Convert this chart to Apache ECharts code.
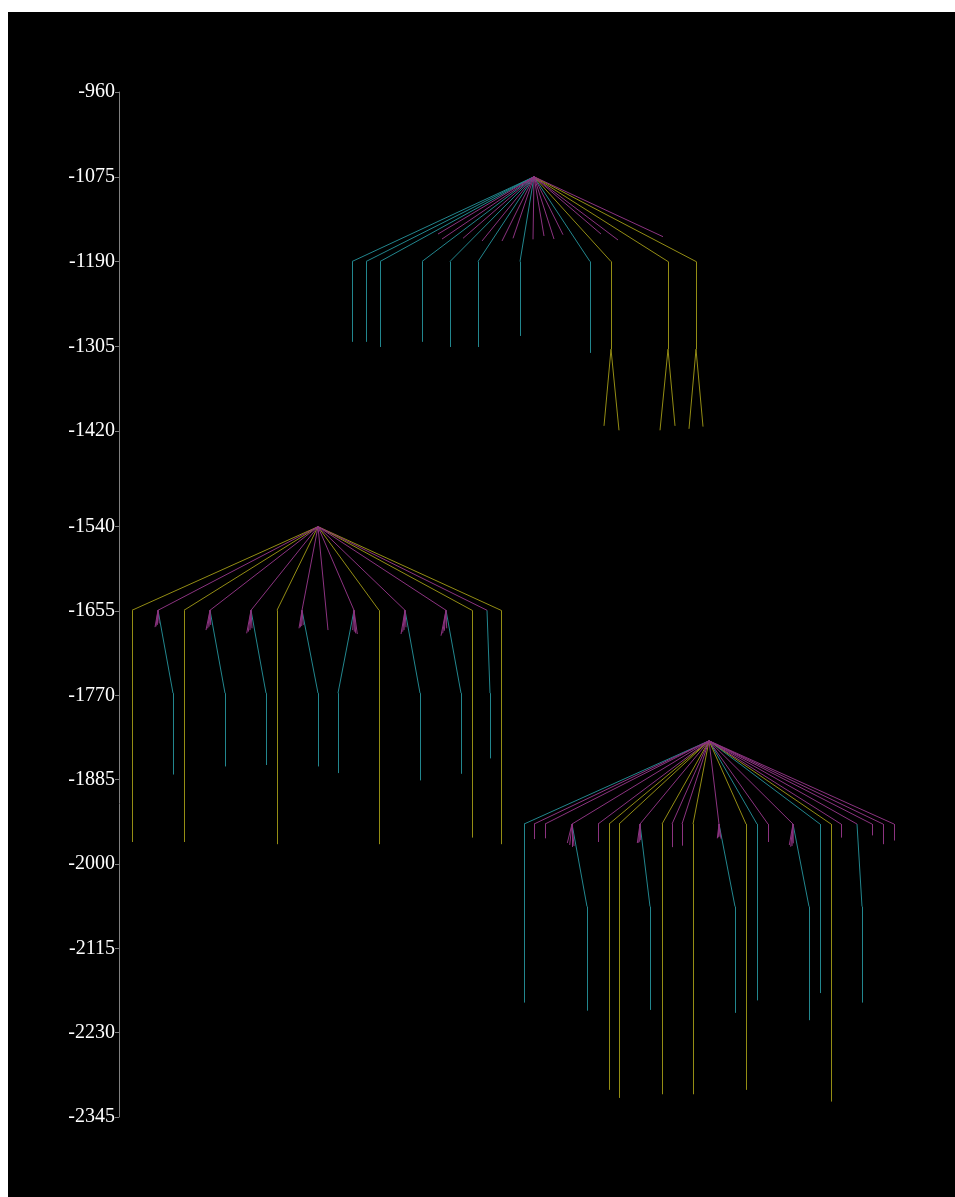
<!DOCTYPE html>
<html>
<head>
<meta charset="utf-8">
<script src="https://cdn.jsdelivr.net/npm/echarts@6/dist/echarts.min.js"></script>
<style>
  html, body { margin: 0; padding: 0; background: #fff; }
  #chart { position: absolute; left: 8px; top: 12px; width: 947px; height: 1185px; background: #000; }
</style>
</head>
<body>
<div id="chart"></div>
<script>
// Tick labels of the two stacked value axes
const upperTicks = [-960, -1075, -1190, -1305, -1420];
const lowerTicks = [-1540, -1655, -1770, -1885, -2000, -2115, -2230, -2345];

// Tree 1 (upper panel)
const t1Root = [415, -1075];
const t1Levels = [-1190, -1309];
const t1Tips = [[319, -1152.7], [323, -1159.5], [344, -1158.5], [363, -1162.2], [383, -1162.2],
  [394, -1158.5], [414, -1159.9], [425, -1155.4], [435, -1159.5], [444, -1153.6],
  [482, -1152.7], [499, -1160.8], [544, -1156.3]];
const t1Stems = [[233, -1299, 'c'], [247, -1299, 'c'], [261, -1306, 'c'], [303, -1299, 'c'],
  [331, -1306, 'c'], [359, -1306, 'c'], [401, -1291, 'c'], [471, -1314, 'c']];
const t1Forks = [[492, 485, -1413, 500, -1419], [549, 541, -1419, 556, -1413], [577, 570, -1417, 584, -1414]];

// Tree 2 (lower panel, left)
const t2Root = [199, -1540];
const t2Levels = [-1654, -1767];
const t2Tips = [[209, -1681]];
const t2Stems = [[13, -1970, 'y'], [65, -1970, 'y'], [158, -1973, 'y'], [260, -1973, 'y'],
  [353, -1964, 'y'], [382, -1973, 'y']];
const t2Clusters = [
  [39, 54, -1878, [[36, -1677], [37, -1676], [38.3, -1674], [40.3, -1672]]],
  [91, 106, -1867, [[87, -1681], [88.7, -1678.6], [90, -1676.4], [91.7, -1674]]],
  [132, 147, -1865, [[127.7, -1685.4], [129.3, -1683.2], [131, -1681], [133, -1678.6]]],
  [183, 199, -1867, [[180, -1678.6], [181.3, -1677.2], [182.7, -1675.5], [184.3, -1674]]],
  [235, 219, -1876, [[233.7, -1681], [235.3, -1683.2], [236.7, -1685.4], [238.3, -1686.4]]],
  [286, 301, -1886, [[282, -1686.4], [283.7, -1683.2], [285, -1681], [287, -1677.2]]],
  [327, 342, -1877, [[322, -1688.7], [323.7, -1685.4], [325.3, -1682], [327.7, -1678.6]]],
  [368, 371, -1856, []]
];

// Tree 3 (lower panel, right)
const t3Root = [590, -1832];
const t3Levels = [-1945.5, -2058];
const t3Tips = [];
const t3Stems = [
  [405, -2189, 'c'], [638, -2186, 'c'], [701, -2176, 'c'],
  [415, -1966, 'm'], [426, -1965, 'm'], [479, -1970, 'm'], [553, -1977, 'm'], [563, -1975, 'm'],
  [649, -1970, 'm'], [722, -1964, 'm'], [753, -1961, 'm'], [764, -1973, 'm'], [775, -1968, 'm'],
  [490, -2308, 'y'], [500, -2319, 'y'], [543, -2314, 'y'], [574, -2314, 'y'], [627, -2308, 'y'], [712, -2324, 'y']
];
const t3Clusters = [
  [453, 468, -2200, [[448.3, -1971.4], [450.7, -1974.1], [453, -1976.8], [455, -1975.5]]],
  [521, 531, -2199, [[518.3, -1971.4], [519.7, -1971], [520.7, -1969.6], [521.7, -1967.3]]],
  [600, 616, -2203, [[598.3, -1965], [599.3, -1963.6], [601, -1962.8], [602, -1965.5]]],
  [674, 690, -2213, [[670.3, -1974.1], [671.7, -1976.4], [673, -1975.5], [674.3, -1971.8]]],
  [738, 743, -2189, []]
];

const COLORS = { c: '#22868e', y: '#948d14', m: '#8c3380' };

// Turn one tree into edge lists per colour, one lines series per colour
function treeSeries(grid, root, levels, tips, stems, forks, clusters) {
  const [lv1, lv2] = levels;
  const edges = { c: [], y: [], m: [] };
  tips.forEach(([x, y]) => edges.m.push([root, [x, y]]));
  stems.forEach(([x, yEnd, k]) => {
    edges[k].push([root, [x, lv1]], [[x, lv1], [x, yEnd]]);
  });
  forks.forEach(([x, xa, ya, xb, yb]) => {
    edges.y.push([root, [x, lv1]], [[x, lv1], [x, lv2]], [[x, lv2], [xa, ya]], [[x, lv2], [xb, yb]]);
  });
  clusters.forEach(([x, xc, yEnd, fans]) => {
    edges.m.push([root, [x, lv1]]);
    fans.forEach(f => edges.m.push([[x, lv1], f]));
    edges.c.push([[x, lv1], [xc, lv2]], [[xc, lv2], [xc, yEnd]]);
  });
  return ['c', 'y', 'm'].map(k => ({
    type: 'lines',
    coordinateSystem: 'cartesian2d',
    xAxisIndex: grid,
    yAxisIndex: grid,
    silent: true,
    lineStyle: { color: COLORS[k], width: 1, opacity: 1, curveness: 0 },
    data: edges[k].map(c => ({ coords: c }))
  }));
}

const axisStyle = {
  axisLine: { show: true, lineStyle: { color: '#808080', width: 1 } },
  splitLine: { show: false }
};

const labelStyle = {
  color: '#ffffff', fontFamily: 'Liberation Serif', fontSize: 20, margin: 4,
  formatter: v => String(v)
};

const chart = echarts.init(document.getElementById('chart'), null, { renderer: 'canvas' });
chart.setOption({
  backgroundColor: '#000',
  animation: false,
  grid: [
    { left: 111, right: 0, top: 80, height: 398 },
    { left: 111, right: 0, top: 478, bottom: 80 }
  ],
  xAxis: [
    { type: 'value', gridIndex: 0, min: 0, max: 836, show: false },
    { type: 'value', gridIndex: 1, min: 0, max: 836, show: false }
  ],
  yAxis: [
    Object.assign({
      type: 'value', gridIndex: 0, min: -1500, max: -960,
      axisTick: { show: true, length: 4, lineStyle: { color: '#808080' }, customValues: upperTicks },
      axisLabel: Object.assign({ customValues: upperTicks }, labelStyle)
    }, axisStyle),
    Object.assign({
      type: 'value', gridIndex: 1, min: -2345, max: -1490,
      axisTick: { show: true, length: 4, lineStyle: { color: '#808080' }, customValues: lowerTicks },
      axisLabel: Object.assign({ customValues: lowerTicks }, labelStyle)
    }, axisStyle)
  ],
  series: [].concat(
    treeSeries(0, t1Root, t1Levels, t1Tips, t1Stems, t1Forks, []),
    treeSeries(1, t2Root, t2Levels, t2Tips, t2Stems, [], t2Clusters),
    treeSeries(1, t3Root, t3Levels, t3Tips, t3Stems, [], t3Clusters)
  )
});
</script>
</body>
</html>
